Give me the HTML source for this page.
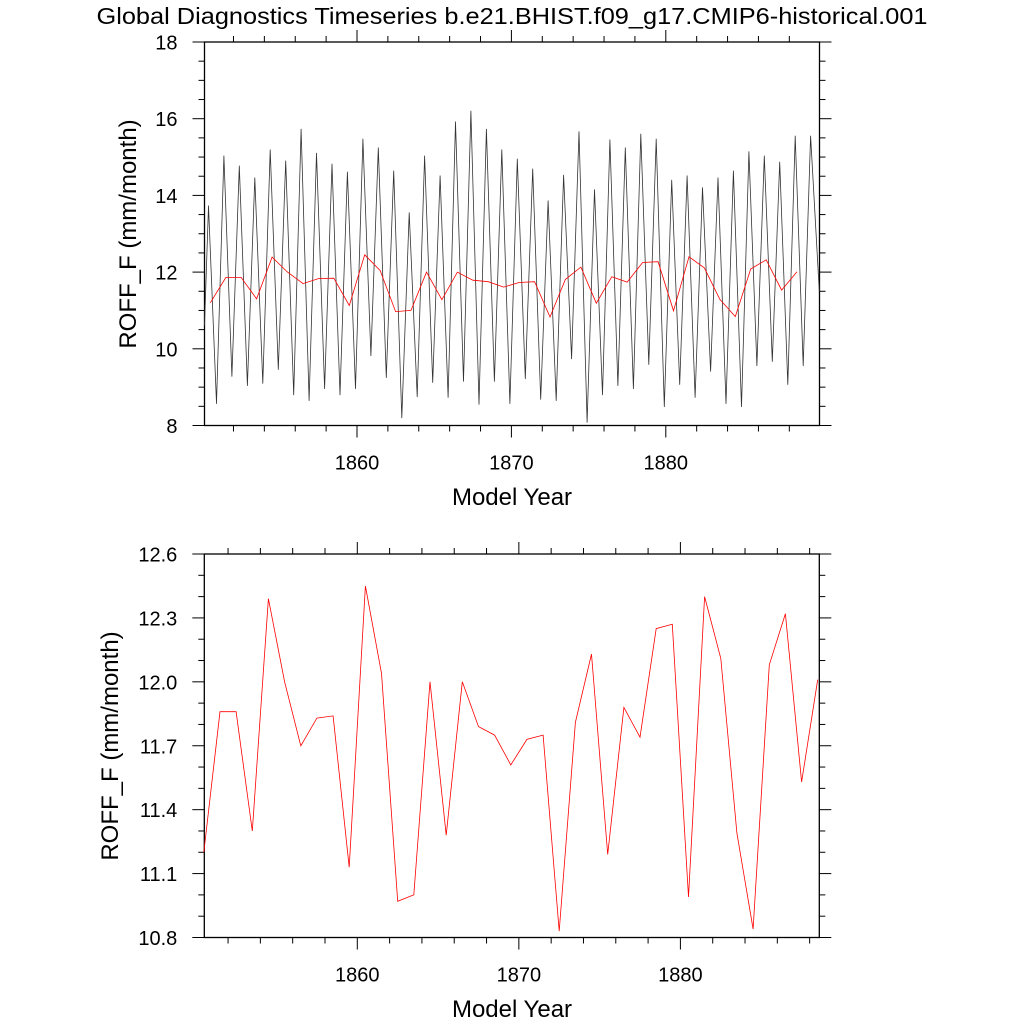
<!DOCTYPE html>
<html><head><meta charset="utf-8"><style>
html,body{margin:0;padding:0;background:#fff}
svg{display:block;font-family:"Liberation Sans",Arial,sans-serif}
</style></head><body>
<svg id="chart" width="1024" height="1024" viewBox="0 0 1024 1024" xmlns="http://www.w3.org/2000/svg">
<text x="512" y="24" font-size="23" text-anchor="middle" textLength="831" lengthAdjust="spacingAndGlyphs">Global Diagnostics Timeseries b.e21.BHIST.f09_g17.CMIP6-historical.001</text>
<g id="top"></g>
<g id="bot"></g>
</svg>
<script>
const peaks=[13.73,15.03,14.77,14.46,15.19,14.9,15.73,15.1,14.82,14.61,15.47,15.24,14.64,13.55,15.03,14.51,15.92,16.2,15.73,15.19,14.95,14.69,13.86,14.53,15.66,14.15,15.45,15.24,15.6,15.47,14.4,14.51,14.2,14.46,14.64,15.14,15.03,14.87,15.55,15.55];
const troughs=[8.57,9.28,9.04,9.1,9.46,8.8,8.65,8.96,8.8,8.96,9.82,9.25,8.2,8.75,9.12,8.73,9.15,8.55,9.15,8.57,9.22,8.68,8.65,9.74,8.08,8.8,9.04,8.96,9.59,8.49,9.07,8.73,9.41,8.57,8.49,9.56,9.67,9.07,9.56];
const annual=[11.2,11.86,11.86,11.3,12.39,12.0,11.7,11.83,11.84,11.13,12.45,12.04,10.97,11.0,12.0,11.28,12.0,11.79,11.75,11.61,11.73,11.75,10.83,11.81,12.13,11.19,11.88,11.74,12.25,12.27,10.99,12.4,12.11,11.29,10.84,12.08,12.32,11.53,12.01];
const xTickLabels=[1860,1870,1880];
const topYTicks=[8,10,12,14,16,18];
const botYTicks=["10.8","11.1","11.4","11.7","12.0","12.3","12.6"];
const firstYear=1850.5;

const NS="http://www.w3.org/2000/svg";
function el(parent,tag,attrs,text){const e=document.createElementNS(NS,tag);for(const k in attrs)e.setAttribute(k,attrs[k]);if(text!==undefined)e.textContent=text;parent.appendChild(e);return e;}
function lin(d0,d1,r0,r1){return v=>r0+(v-d0)*(r1-r0)/(d1-d0);}

function axes(g,L,R,T,B,X,Y,x0,x1,yMaj,yMinStep,yLabels,ymin,ymax,name){
  const fr=el(g,'rect',{x:L,y:T,width:R-L,height:B-T,fill:'none',stroke:'#000','stroke-width':1.3});
  
  
  for(let yr=Math.ceil(x0/2)*2; yr<=x1; yr+=2){
    const x=X(yr); const maj=yr%10===0; const len=maj?12:6;
    el(g,'line',{x1:x,x2:x,y1:B,y2:B+len,stroke:'#000','stroke-width':1});
    el(g,'line',{x1:x,x2:x,y1:T,y2:T-len,stroke:'#000','stroke-width':1});
  }
  xTickLabels.forEach(yr=>{
    const t=el(g,'text',{x:X(yr),y:B+44,'font-size':20,'text-anchor':'middle'},String(yr));
    
    
  });
  const n=Math.round((ymax-ymin)/yMinStep);
  for(let i=0;i<=n;i++){
    const v=ymin+i*yMinStep; const y=Y(v);
    const maj=Math.abs(((v-ymin)/yMaj)-Math.round((v-ymin)/yMaj))<1e-6; const len=maj?12:6;
    el(g,'line',{x1:L,x2:L-len,y1:y,y2:y,stroke:'#000','stroke-width':1});
    el(g,'line',{x1:R,x2:R+len,y1:y,y2:y,stroke:'#000','stroke-width':1});
  }
  yLabels.forEach(lab=>{
    const t=el(g,'text',{x:L-27,y:Y(parseFloat(lab))+7.5,'font-size':20,'text-anchor':'end'},String(lab));
    
    
  });
}

(function(){
  const g=document.getElementById('top');
  const L=204.5,R=819.5,T=42,B=425.5;
  const X=lin(1860,1880,357,665.8);
  const Y=lin(8,18,B,T);
  axes(g,L,R,T,B,X,Y,1850.12,1889.94,2,0.5,topYTicks,8,18,'top');
  const pts=[[1850.12,10.6]];
  for(let i=0;i<peaks.length;i++){
    pts.push([1850.38+i,peaks[i]]);
    if(i<troughs.length) pts.push([1850.9+i,troughs[i]]);
  }
  pts.push([1889.94,11.5]);
  const monthly=el(g,'polyline',{points:pts.map(p=>X(p[0]).toFixed(1)+','+Y(p[1]).toFixed(1)).join(' '),fill:'none',stroke:'#333','stroke-width':0.8,'stroke-linejoin':'round'});
  
  
  const ann=el(g,'polyline',{points:annual.map((v,i)=>X(firstYear+i).toFixed(1)+','+Y(v).toFixed(1)).join(' '),fill:'none',stroke:'#f00','stroke-width':0.8});
  
  
  const yt=el(g,'text',{x:0,y:0,'font-size':24,'text-anchor':'middle',transform:'translate(136,234) rotate(-90)'},'ROFF_F (mm/month)');
  
  
  const xt=el(g,'text',{x:512,y:505,'font-size':24,'text-anchor':'middle'},'Model Year');
  
  
})();

(function(){
  const g=document.getElementById('bot');
  const L=204.3,R=819.3,T=554,B=937.5;
  const X=lin(1860,1880,357.3,680.4);
  const Y=lin(10.8,12.6,B,T);
  axes(g,L,R,T,B,X,Y,1850.5,1888.55,0.3,0.1,botYTicks,10.8,12.6,'bottom');
  const ann=el(g,'polyline',{points:annual.map((v,i)=>X(firstYear+i).toFixed(1)+','+Y(v).toFixed(1)).join(' '),fill:'none',stroke:'#f00','stroke-width':0.8});
  
  
  const yt=el(g,'text',{x:0,y:0,'font-size':24,'text-anchor':'middle',transform:'translate(118,746) rotate(-90)'},'ROFF_F (mm/month)');
  
  
  const xt=el(g,'text',{x:512,y:1017,'font-size':24,'text-anchor':'middle'},'Model Year');
  
  
})();
</script>
</body></html>
